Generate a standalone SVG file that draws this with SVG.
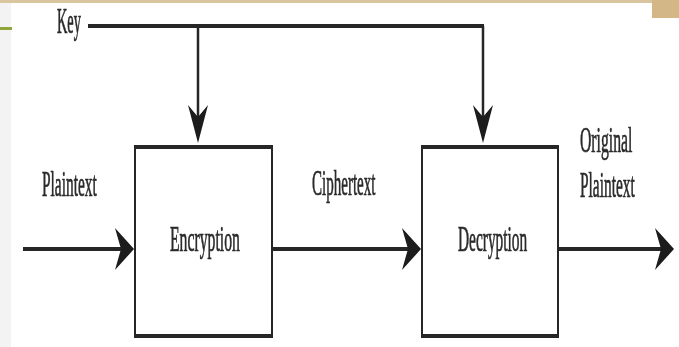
<svg xmlns="http://www.w3.org/2000/svg" width="679" height="347" viewBox="0 0 679 347">
  <defs>
    <style>
      .lbl { font-family: "Liberation Serif", "Times New Roman", serif; font-size: 35px; fill: #2a2a2a; stroke: #2a2a2a; stroke-width: 0.7; }
      .h { stroke: #262626; stroke-width: 4; fill: none; }
      .v { stroke: #262626; stroke-width: 2.5; fill: none; }
      .box { fill: #ffffff; stroke: #262626; stroke-width: 2; }
      .edge { stroke: #262626; stroke-width: 4; }
    </style>
    <marker id="ah" markerUnits="userSpaceOnUse" markerWidth="40" markerHeight="50" viewBox="-10 -25 25 50" refX="0" refY="0" orient="auto">
      <path d="M11,0 L-8,-21 L-2,0 L-8,21 Z" fill="#1a1a1a"/>
    </marker>
    <marker id="av" markerUnits="userSpaceOnUse" markerWidth="50" markerHeight="30" viewBox="-30 -15 45 30" refX="0" refY="0" orient="auto">
      <path d="M10,0 L-28,-10 L-16,0 L-28,10 Z" fill="#1a1a1a"/>
    </marker>
    <filter id="soft" x="-5%" y="-5%" width="110%" height="110%">
      <feGaussianBlur stdDeviation="0.5"/>
    </filter>
  </defs>

  <rect x="0" y="0" width="679" height="347" fill="#ffffff"/>
  <rect x="0" y="0" width="11" height="347" fill="#f3f3f3"/>
  <rect x="0" y="0" width="679" height="3" fill="#d9c6a0"/>
  <rect x="652" y="0" width="27" height="18" fill="#d4b786"/>
  <rect x="0" y="27" width="12" height="3" fill="#8ea63a"/>

  <g filter="url(#soft)">
    <g id="encryption">
      <rect class="box" x="135" y="147" width="137" height="190"/>
      <line class="edge" x1="134" y1="147" x2="273" y2="147"/>
      <line class="edge" x1="134" y1="336" x2="273" y2="336"/>
      <text class="lbl" transform="translate(170,251) scale(0.45,1)">Encryption</text>
    </g>
    <g id="decryption">
      <rect class="box" x="422" y="147" width="136" height="190"/>
      <line class="edge" x1="421" y1="147" x2="559" y2="147"/>
      <line class="edge" x1="421" y1="336" x2="559" y2="336"/>
      <text class="lbl" transform="translate(458,251) scale(0.44,1)">Decryption</text>
    </g>
    <g id="connectors">
      <line class="h" x1="88" y1="26" x2="484" y2="26"/>
      <line class="v" x1="198" y1="26" x2="198" y2="133" marker-end="url(#av)"/>
      <line class="v" x1="483" y1="26" x2="483" y2="133" marker-end="url(#av)"/>
      <line class="h" x1="23" y1="249" x2="123" y2="249" marker-end="url(#ah)"/>
      <line class="h" x1="272" y1="249" x2="410" y2="249" marker-end="url(#ah)"/>
      <line class="h" x1="558" y1="249" x2="663" y2="249" marker-end="url(#ah)"/>
    </g>
    <g id="labels">
      <text class="lbl" transform="translate(57,33) scale(0.41,1)">Key</text>
      <text class="lbl" transform="translate(42,196) scale(0.44,1)">Plaintext</text>
      <text class="lbl" transform="translate(312,195) scale(0.43,1)">Ciphertext</text>
      <text class="lbl" transform="translate(580,152) scale(0.45,1)">Original</text>
      <text class="lbl" transform="translate(580,197) scale(0.44,1)">Plaintext</text>
    </g>
  </g>
</svg>
